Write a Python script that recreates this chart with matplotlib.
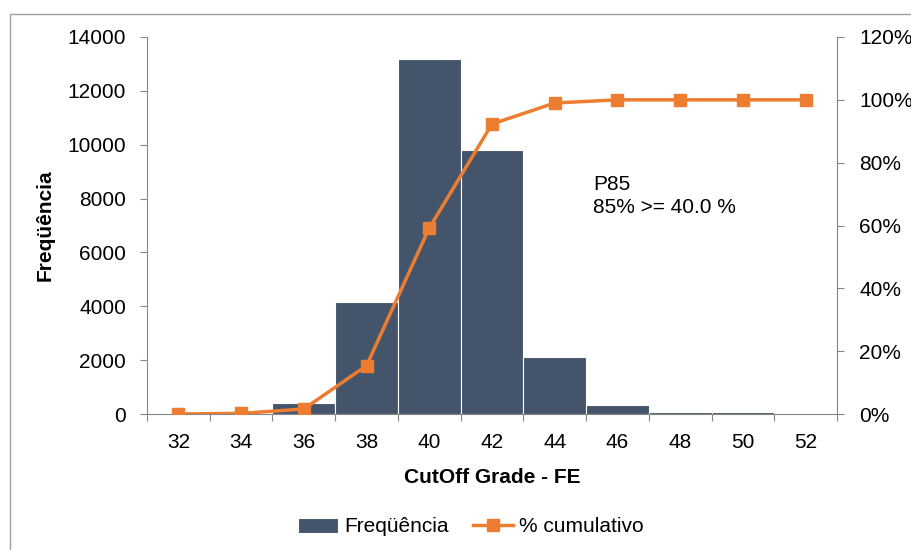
#!/usr/bin/env python3
"""Histograma de teores de corte com curva cumulativa (P85)."""

import numpy as np
import matplotlib.pyplot as plt
from matplotlib.patches import Rectangle
from matplotlib.ticker import MultipleLocator, FuncFormatter, FixedLocator

plt.rcParams["font.family"] = ["Liberation Sans", "DejaVu Sans"]

# dados
CLASSES = ["32", "34", "36", "38", "40", "42", "44", "46", "48", "50", "52"]
FREQUENCIA = [0, 20, 420, 4160, 13180, 9800, 2130, 320, 60, 60, 0]
CUMULATIVO = [0.0, 0.2, 1.6, 15.4, 59.2, 92.3, 99.0, 100.0, 100.0, 100.0, 100.0]

BAR_COLOR = "#44546A"
LINE_COLOR = "#ED7D31"
AXIS_COLOR = "#868686"
FS = 15


def main():
    fig = plt.figure(figsize=(9.12, 5.5), dpi=100)
    # moldura do gráfico (estilo Excel)
    fig.patches.append(Rectangle((10 / 912, -0.1), 1.2, 1 - 14 / 550 + 0.1,
                                 transform=fig.transFigure, fill=False,
                                 edgecolor="#A0A0A0", linewidth=1.0))

    ax = fig.add_axes([147 / 912, 1 - 414 / 550, 690 / 912, 377 / 550])
    x = np.arange(len(CLASSES))

    bars = ax.bar(x, FREQUENCIA, width=1.0, color=BAR_COLOR,
                  edgecolor="white", linewidth=0.8, label="Freqüência", zorder=2)
    ax.set_xlim(-0.5, len(CLASSES) - 0.5)
    ax.set_ylim(0, 14000)
    ax.yaxis.set_major_locator(MultipleLocator(2000))

    # marcas entre categorias, rótulos no centro
    ax.xaxis.set_major_locator(FixedLocator(np.arange(-0.5, len(CLASSES), 1.0)))
    ax.xaxis.set_major_formatter(FuncFormatter(lambda v, p: ""))
    ax.set_xticks(x, CLASSES, minor=True)
    ax.tick_params(axis="x", which="minor", length=0, labelsize=FS, pad=14)
    ax.tick_params(axis="x", which="major", length=5, color=AXIS_COLOR)
    ax.tick_params(axis="y", length=5, color=AXIS_COLOR, labelsize=FS, pad=10)

    for s in ["top", "right"]:
        ax.spines[s].set_visible(False)
    for s in ["left", "bottom"]:
        ax.spines[s].set_color(AXIS_COLOR)

    ax.set_ylabel("Freqüência", fontsize=FS, fontweight="bold", labelpad=9)
    ax.set_xlabel("CutOff Grade - FE", fontsize=FS, fontweight="bold", labelpad=11)

    ax2 = ax.twinx()
    line, = ax2.plot(x, CUMULATIVO, color=LINE_COLOR, linewidth=2.5,
                     marker="s", markersize=8, label="% cumulativo", zorder=3)
    ax2.set_ylim(0, 120)
    ax2.yaxis.set_major_locator(MultipleLocator(20))
    ax2.yaxis.set_major_formatter(FuncFormatter(lambda v, p: f"{v:.0f}%"))
    ax2.tick_params(axis="y", length=5, color=AXIS_COLOR, labelsize=FS, pad=11)
    for s in ["top", "left", "bottom"]:
        ax2.spines[s].set_visible(False)
    ax2.spines["right"].set_color(AXIS_COLOR)

    ax2.text(593 / 912, 1 - 175 / 550, "P85\n85% >= 40.0 %",
             transform=fig.transFigure, fontsize=FS, va="top", ha="left",
             linespacing=1.3)

    fig.legend([bars, line], ["Freqüência", "% cumulativo"],
               loc="center", bbox_to_anchor=(471 / 912, 1 - 527 / 550),
               ncol=2, frameon=False, fontsize=FS, handlelength=1.9,
               columnspacing=1.2, handletextpad=0.3)

    plt.savefig("out.png", dpi=100)


if __name__ == "__main__":
    main()
